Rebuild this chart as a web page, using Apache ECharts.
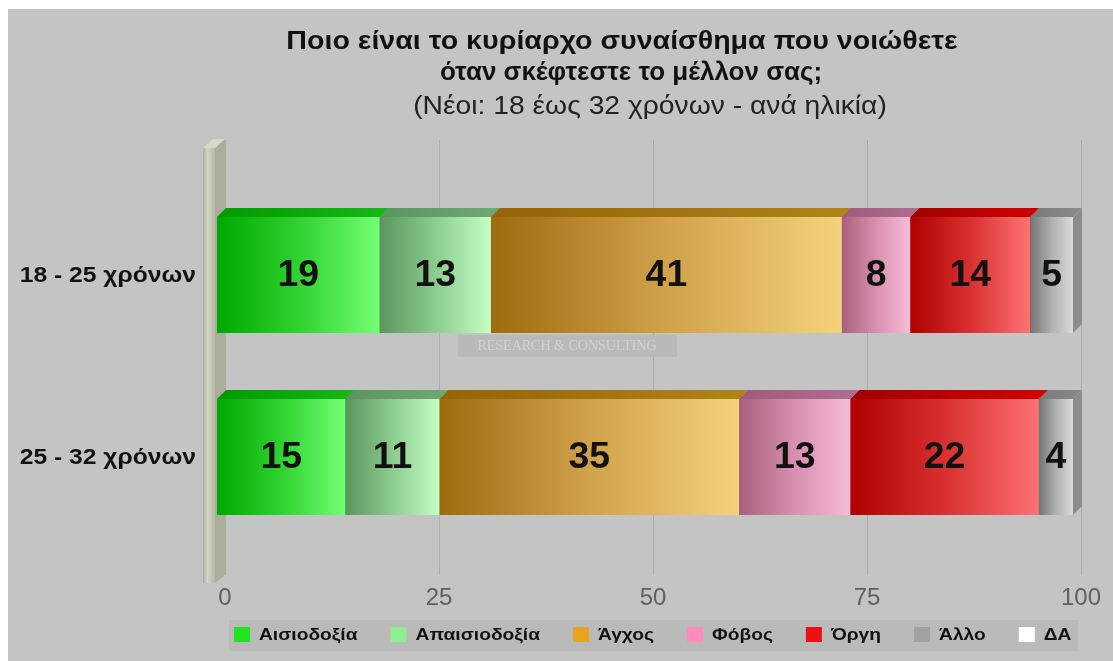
<!DOCTYPE html>
<html>
<head>
<meta charset="utf-8">
<script src="https://cdn.jsdelivr.net/npm/echarts@6/dist/echarts.min.js"></script>
<style>
  html, body { margin: 0; padding: 0; background: #ffffff; }
  #panel { position: absolute; left: 8px; top: 9px; width: 1105px; height: 652px; background: #c4c4c4; }
  #chart { position: absolute; left: 0; top: 0; width: 1113px; height: 661px; }
</style>
</head>
<body>
<div id="panel"></div>
<div id="chart"></div>
<script>
// Age groups (rows, top to bottom)
const categories = ['18 - 25 χρόνων', '25 - 32 χρόνων'];

// Share of each dominant feeling per age group (%)
const optimism  = [19, 15];
const pessimism = [13, 11];
const anxiety   = [41, 35];
const fear      = [8, 13];
const anger     = [14, 22];
const other     = [5, 4];
const noAnswer  = [0, 0];

const emotionNames = ['Αισιοδοξία', 'Απαισιοδοξία', 'Άγχος', 'Φόβος', 'Όργη', 'Άλλο', 'ΔΑ'];
const emotionValues = [optimism, pessimism, anxiety, fear, anger, other, noAnswer];

// Value axis ticks
const xTicks = [0, 25, 50, 75, 100];

// Title lines
const titleLines = ['Ποιο είναι το κυρίαρχο συναίσθημα που νοιώθετε', 'όταν σκέφτεστε το μέλλον σας;'];
const subtitle = '(Νέοι: 18 έως 32 χρόνων - ανά ηλικία)';

// Colours: legend swatch, front face gradient (left -> right), top face, side face
const palette = [
  { legend: '#1ee61e', front: ['#00a800', '#2fd22f', '#74ff74'], top: ['#009a00', '#16b816'], side: '#009000' },
  { legend: '#8cf08c', front: ['#5a965e', '#8ccc8e', '#c4ffc4'], top: ['#5a9460', '#70a874'], side: '#5a9460' },
  { legend: '#e8a41e', front: ['#9c6c0e', '#d0a24a', '#f4d27c'], top: ['#946406', '#b08418'], side: '#946406' },
  { legend: '#ff8cbe', front: ['#a8607e', '#d890b0', '#f8bcd8'], top: ['#9e5c7c', '#b06e8e'], side: '#9e5c7c' },
  { legend: '#ee1010', front: ['#b00000', '#d83030', '#ff7272'], top: ['#a00000', '#d20000'], side: '#a00000' },
  { legend: '#a2a2a2', front: ['#747474', '#b0b0b0', '#dadada'], top: ['#7a7a7a', '#8a8a8a'], side: '#8c8c8c' },
  { legend: '#ffffff', front: ['#e8e8e8', '#f6f6f6', '#ffffff'], top: ['#d0d0d0', '#e0e0e0'], side: '#d0d0d0' }
];

const FONT = '"Liberation Sans", Arial, sans-serif';
const DEPTH = 9;            // 3D depth offset of the bars (px)
const BAR_RATIO = 0.637;    // bar thickness relative to the category band

function hGrad(stops) {
  return new echarts.graphic.LinearGradient(0, 0, 1, 0,
    stops.map((c, i) => ({ offset: i / (stops.length - 1), color: c })));
}

// Stacked segments: [start, end, rowIndex, value]
const cumulative = categories.map(() => 0);
const segmentData = emotionValues.map(vals => vals.map((v, row) => {
  const start = cumulative[row];
  cumulative[row] += v;
  return [start, start + v, row, v];
}));

function makeRenderer(idx) {
  const pal = palette[idx];
  return function (params, api) {
    const value = api.value(3);
    if (!value) return null;
    const row = api.value(2);
    const p0 = api.coord([api.value(0), row]);
    const p1 = api.coord([api.value(1), row]);
    const band = api.size([0, 1])[1];
    const h = band * BAR_RATIO;
    const x0 = p0[0], x1 = p1[0];
    const top = p0[1] - h / 2, bottom = p0[1] + h / 2;
    const d = DEPTH;
    return {
      type: 'group',
      children: [
        { type: 'polygon', shape: { points: [[x1, top], [x1 + d, top - d], [x1 + d, bottom - d], [x1, bottom]] },
          style: { fill: pal.side } },
        { type: 'polygon', shape: { points: [[x0, top], [x0 + d, top - d], [x1 + d, top - d], [x1, top]] },
          style: { fill: hGrad(pal.top) } },
        { type: 'rect', shape: { x: x0, y: top, width: x1 - x0, height: h },
          style: { fill: hGrad(pal.front) } },
        { type: 'text', x: (x0 + x1) / 2, y: p0[1] + 1, scaleX: 1.04,
          style: { text: String(value), x: 0, y: 0,
            align: 'center', verticalAlign: 'middle',
            font: 'bold 36px ' + FONT, fill: '#111111' } }
      ]
    };
  };
}

const series = emotionNames.map((name, i) => ({
  name: name,
  type: 'custom',
  xAxisIndex: 1,
  yAxisIndex: 1,
  itemStyle: { color: palette[i].legend },
  encode: { x: [0, 1], y: 2 },
  renderItem: makeRenderer(i),
  data: segmentData[i],
  z: 3
}));

// Row labels, placed on the category scale and set slightly wide
series.push({
  name: 'rowLabels',
  type: 'custom',
  xAxisIndex: 1,
  yAxisIndex: 1,
  silent: true,
  encode: { x: 0, y: 1 },
  data: categories.map((c, i) => [0, i]),
  renderItem: function (params, api) {
    const p = api.coord([api.value(0), api.value(1)]);
    return {
      type: 'text', x: p[0] - 21, y: p[1] + 1, scaleX: 1.12,
      style: { text: categories[api.value(1)], x: 0, y: 0, align: 'right', verticalAlign: 'middle',
        font: 'bold 22px ' + FONT, fill: '#111111' }
    };
  },
  z: 4
});

// Legend row, laid out from the measured width of each name
const measureCtx = document.createElement('canvas').getContext('2d');
const LEGEND_FONT = 'bold 17px ' + FONT;
const LEGEND_STRETCH = 1.13;
measureCtx.font = LEGEND_FONT;
const legendItems = [];
let cursor = 234;
const legendY = 635;
emotionNames.forEach((name, i) => {
  legendItems.push({ type: 'rect', z: 5, shape: { x: cursor, y: legendY - 8, width: 16, height: 15 },
    style: { fill: palette[i].legend } });
  const tx = cursor + 25;
  legendItems.push({ type: 'text', z: 5, x: tx, y: legendY, scaleX: LEGEND_STRETCH,
    style: { text: name, x: 0, y: 0, align: 'left', verticalAlign: 'middle', font: LEGEND_FONT, fill: '#111111' } });
  cursor = tx + measureCtx.measureText(name).width * LEGEND_STRETCH + 33;
});

const wallFront = new echarts.graphic.LinearGradient(0, 0, 1, 0, [
  { offset: 0, color: '#a8ac98' }, { offset: 0.35, color: '#d2d6c4' }, { offset: 1, color: '#b4b8a4' }
]);

const chart = echarts.init(document.getElementById('chart'), null, { renderer: 'canvas' });
chart.setOption({
  backgroundColor: 'transparent',
  animation: false,
  grid: [
    { left: 225, right: 32, top: 140, bottom: 86 },
    { left: 217, width: 856, top: 184, height: 364 }
  ],
  xAxis: [
    {
      gridIndex: 0, type: 'value', min: xTicks[0], max: xTicks[xTicks.length - 1],
      interval: xTicks[1] - xTicks[0],
      axisLine: { show: false }, axisTick: { show: false },
      splitLine: { show: true, lineStyle: { color: '#adadad', width: 1 } },
      axisLabel: { margin: 11, fontFamily: FONT, fontSize: 24, color: '#606060' }
    },
    {
      gridIndex: 1, type: 'value', min: xTicks[0], max: xTicks[xTicks.length - 1],
      show: false
    }
  ],
  yAxis: [
    { gridIndex: 0, type: 'value', show: false },
    {
      gridIndex: 1, type: 'category', data: categories, inverse: true,
      axisLine: { show: false }, axisTick: { show: false }, splitLine: { show: false },
      axisLabel: { show: false }
    }
  ],
  graphic: [
    // title block
    { type: 'text', z: 5, x: 622, y: 42, scaleX: 1.1,
      style: { text: titleLines[0], x: 0, y: 0, align: 'center', verticalAlign: 'middle',
        font: 'bold 26px ' + FONT, fill: '#111111' } },
    { type: 'text', z: 5, x: 631, y: 73, scaleX: 1.0,
      style: { text: titleLines[1], x: 0, y: 0, align: 'center', verticalAlign: 'middle',
        font: 'bold 26px ' + FONT, fill: '#111111' } },
    { type: 'text', z: 5, x: 650, y: 107, scaleX: 1.13,
      style: { text: subtitle, x: 0, y: 0, align: 'center', verticalAlign: 'middle',
        font: '25px ' + FONT, fill: '#222222' } },
    // left wall of the plot
    { type: 'polygon', z: 1, shape: { points: [[215, 148], [225, 139], [225, 575], [215, 583]] },
      style: { fill: '#a9ad99' } },
    { type: 'polygon', z: 1, shape: { points: [[203, 148], [213, 139], [225, 139], [215, 148]] },
      style: { fill: '#d6d8cc' } },
    { type: 'rect', z: 1, shape: { x: 203, y: 148, width: 12, height: 435 },
      style: { fill: wallFront } },
    // watermark
    { type: 'rect', z: 1, shape: { x: 458, y: 335, width: 219, height: 22 },
      style: { fill: '#b9b9b9' } },
    { type: 'text', z: 1, x: 567, y: 346,
      style: { text: 'RESEARCH & CONSULTING', align: 'center', verticalAlign: 'middle',
        font: '14px "Liberation Serif", serif', fill: '#d2d2d2' } },
    // legend box
    { type: 'rect', z: 4, shape: { x: 229, y: 620, width: 849, height: 31 },
      style: { fill: '#bababa' } }
  ].concat(legendItems),
  series: series
});
</script>
</body>
</html>
